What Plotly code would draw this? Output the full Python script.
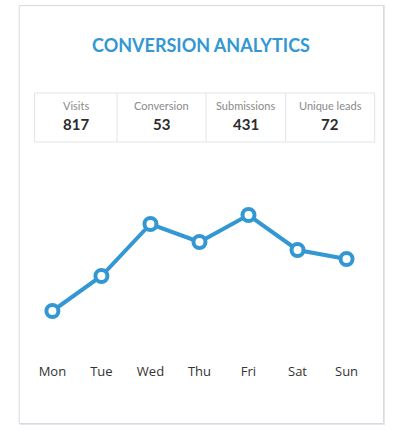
import plotly.graph_objects as go

W, H = 411, 434

days = ["Mon", "Tue", "Wed", "Thu", "Fri", "Sat", "Sun"]
conversions = [10, 17, 27.4, 23.8, 29.2, 22.2, 20.4]

stat_labels = ["Visits", "Conversion", "Submissions", "Unique leads"]
stat_values = ["817", "53", "431", "72"]

title_text = "CONVERSION ANALYTICS"

BLUE = "#3397d3"

def px(x):
    return x / W

def py(y):
    return 1 - y / H

fig = go.Figure()
fig.add_trace(go.Scatter(
    x=list(range(len(days))), y=conversions, mode="lines+markers",
    line=dict(color=BLUE, width=4),
    marker=dict(size=12, color="white", line=dict(color=BLUE, width=4)),
    hoverinfo="skip", cliponaxis=False,
))

shapes = []
# card shadow + card
shapes.append(dict(type="rect", xref="paper", yref="paper",
                   x0=px(6), x1=px(396), y0=py(425), y1=py(5),
                   line=dict(width=0), fillcolor="#e3e6ea", layer="below"))
shapes.append(dict(type="rect", xref="paper", yref="paper",
                   x0=px(5.5), x1=px(394.5), y0=py(423.5), y1=py(5.5),
                   line=dict(color="#d6dae0", width=1), fillcolor="white", layer="below"))
# stats box
box_l, box_r, box_t, box_b = 22, 385, 93, 142
shapes.append(dict(type="rect", xref="paper", yref="paper",
                   x0=px(box_l), x1=px(box_r), y0=py(box_b), y1=py(box_t),
                   line=dict(color="#e2e4e7", width=1), fillcolor="rgba(0,0,0,0)", layer="below"))
dividers = [110, 205, 290]
for d in dividers:
    shapes.append(dict(type="line", xref="paper", yref="paper",
                       x0=px(d), x1=px(d), y0=py(box_b), y1=py(box_t),
                       line=dict(color="#e2e4e7", width=1), layer="below"))

annotations = [dict(text=title_text, x=px(200), y=py(45), xref="paper", yref="paper",
                    showarrow=False, xanchor="center", yanchor="middle",
                    font=dict(family="Lato", size=18, color=BLUE, weight="bold"))]
edges = [box_l] + dividers + [box_r]
for i, (lab, val) in enumerate(zip(stat_labels, stat_values)):
    cx = (edges[i] + edges[i + 1]) / 2
    annotations.append(dict(text=lab, x=px(cx), y=py(106), xref="paper", yref="paper",
                            showarrow=False, xanchor="center", yanchor="middle",
                            font=dict(family="Lato", size=11, color="#8a8a8a")))
    annotations.append(dict(text=val, x=px(cx), y=py(124), xref="paper", yref="paper",
                            showarrow=False, xanchor="center", yanchor="middle",
                            font=dict(family="Lato", size=15, color="#2b2b2b", weight="bold")))

fig.update_layout(
    width=W, height=H,
    margin=dict(l=0, r=0, t=0, b=0),
    paper_bgcolor="#ffffff", plot_bgcolor="rgba(0,0,0,0)",
    showlegend=False,
    shapes=shapes, annotations=annotations,
    xaxis=dict(domain=[px(41), px(355)], range=[0, 6], tickmode="array",
               tickvals=list(range(len(days))), ticktext=days,
               showgrid=False, zeroline=False, showline=False,
               ticks="outside", ticklen=4, tickcolor="rgba(0,0,0,0)",
               tickfont=dict(family="Open Sans", size=13, color="#333333")),
    yaxis=dict(domain=[py(355), py(190)], range=[1.2, 34.2],
               showgrid=False, zeroline=False, showline=False, showticklabels=False),
)

fig.write_html("out.html", config={"displayModeBar": False},
               post_script="document.body.style.margin='0';document.body.style.overflow='hidden';")
